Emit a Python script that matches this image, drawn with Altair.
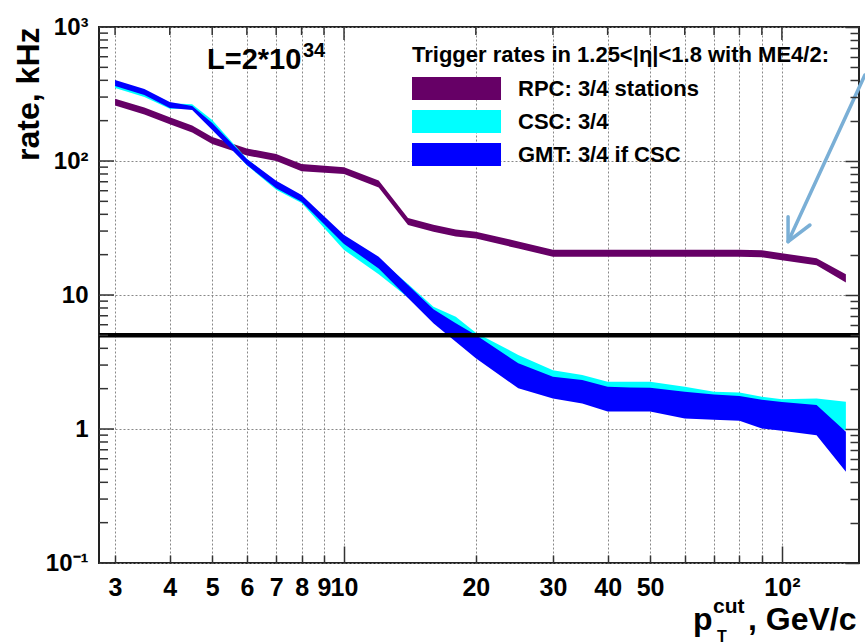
import altair as alt
import pandas as pd

# ---------------- data ----------------
pt = [3, 3.5, 4, 4.5, 5, 6, 7, 8, 10, 12, 14, 16, 18, 20, 25, 30, 35, 40, 45, 50,
      60, 70, 80, 90, 100, 120, 140]

rpc_lo = [259, 222, 188, 163, 134, 110, 100, 84, 80, 63.4, 33.3, 29.7, 27.3, 26.4, 22.2,
          19.3, 19.3, 19.3, 19.3, 19.3, 19.3, 19.3, 19.3, 19.1, 18.2, 16.7, 12.4]
rpc_hi = [292, 251, 212, 184, 151, 124, 113, 95, 90, 71.5, 37.6, 33.5, 30.8, 29.7, 25.1,
          21.8, 21.8, 21.8, 21.8, 21.8, 21.8, 21.8, 21.8, 21.6, 20.5, 18.8, 14.3]

csc_lo = [350, 300, 245, 245, 176, 93, 61, 48.6, 21.7, 14.3, 9.6, 6.7, 5.0, 3.8, 2.3,
          1.85, 1.7, 1.5, 1.5, 1.5, 1.35, 1.3, 1.28, 1.15, 1.1, 1.05, 0.98]
csc_hi = [392, 335, 270, 265, 202, 104, 69.6, 54.8, 26.6, 18.6, 12.1, 8.17, 6.89, 5.23, 3.57,
          2.75, 2.53, 2.25, 2.25, 2.25, 2.07, 1.90, 1.87, 1.74, 1.67, 1.69, 1.60]

gmt_lo = [363, 311, 249, 240, 170, 93.4, 62.5, 49.7, 24.0, 15.8, 9.5, 6.15, 4.48, 3.37, 2.01,
          1.69, 1.55, 1.35, 1.35, 1.35, 1.20, 1.17, 1.15, 1.01, 0.97, 0.90, 0.48]
gmt_hi = [402, 345, 276, 257, 192, 103.5, 71.3, 55.7, 28.0, 19.3, 11.9, 7.82, 6.15, 5.03, 3.09,
          2.45, 2.32, 2.07, 2.04, 2.03, 1.90, 1.81, 1.76, 1.65, 1.59, 1.51, 0.955]

series_names = ["RPC: 3/4 stations", "CSC: 3/4", "GMT: 3/4 if CSC"]
series_colors = ["#660066", "#00ffff", "#0000ff"]

threshold = [5]

# annotation arrow (data coordinates)
arrow_part = ["shaft", "shaft", "head", "head", "head"]
arrow_pt = [154.7, 103.3, 103.3, 103.3, 115.9]
arrow_rate = [438, 25.0, 38.4, 25.0, 33.3]
arrow_order = [0, 1, 0, 1, 2]

legend_title = "Trigger rates in 1.25<|η|<1.8 with ME4/2:"

x_ticks = [3, 4, 5, 6, 7, 8, 9, 10, 20, 30, 40, 50, 60, 70, 80, 90, 100]
x_major_ticks = [10, 100]
x_minor_ticks = [3, 4, 5, 6, 7, 8, 9, 20, 30, 40, 50, 60, 70, 80, 90]
y_major = [0.1, 1, 10, 100, 1000]
y_minor_ticks = [0.2, 0.3, 0.4, 0.5, 0.6, 0.7, 0.8, 0.9,
                 2, 3, 4, 5, 6, 7, 8, 9,
                 20, 30, 40, 50, 60, 70, 80, 90,
                 200, 300, 400, 500, 600, 700, 800, 900]

# ---------------- geometry / style ----------------
W, H = 760, 536
FONT = "Liberation Sans"
TICK_COLOR = "#333333"
TICK_W = 1.5
xscale = alt.Scale(type="log", domain=[2.757, 150], nice=False)
yscale = alt.Scale(type="log", domain=[0.1, 1000], nice=False)
cscale = alt.Scale(domain=series_names, range=series_colors)

legend = alt.Legend(
    orient="none", legendX=313, legendY=18, title=legend_title,
    titleFontSize=22, titleFontWeight="bold", titleFont=FONT, titleColor="black",
    titleLimit=600, titlePadding=10,
    labelFontSize=22, labelFontWeight="bold", labelFont=FONT, labelColor="black",
    labelOffset=83, labelLimit=400,
    symbolType="M-1,-1H6.74V1H-1Z", symbolSize=529, symbolStrokeWidth=0,
    symbolOpacity=1, rowPadding=10, padding=0,
)

x_main = alt.Axis(
    orient="bottom", values=x_ticks,
    labelExpr="datum.value == 100 ? '10²' : (datum.value >= 60 ? '' : format(datum.value, 'd'))",
    ticks=False, domain=False,
    grid=True, gridDash=[2, 2], gridColor="#888888", gridWidth=1,
    labelFontSize=25, labelFontWeight="bold", labelFont=FONT, labelColor="black",
    labelPadding=12, labelOverlap=False, labelFlush=False, title=None,
)
y_main = alt.Axis(
    orient="left", values=y_major,
    labelExpr="datum.value == 1000 ? '10³' : datum.value == 100 ? '10²' : datum.value == 10 ? '10' : datum.value == 1 ? '1' : '10⁻¹'",
    ticks=False, domain=False,
    grid=True, gridDash=[2, 2], gridColor="#888888", gridWidth=1,
    labelFontSize=24, labelFontWeight="bold", labelFont=FONT, labelColor="black",
    labelPadding=11, labelOverlap=False, labelFlush=False,
    title="rate, kHz", titleFontSize=32, titleFontWeight="bold", titleFont=FONT,
    titleColor="black", titleAngle=270, titleX=-71, titleY=0,
    titleAlign="right", titleBaseline="middle",
)


def tick_axis(orient, values, offset, size):
    # an axis shifted onto the far edge so that its ticks point into the frame
    return alt.Axis(
        orient=orient, values=values, offset=offset, labels=False, domain=False,
        grid=False, title=None, tickColor=TICK_COLOR, tickWidth=TICK_W,
        tickSize=size, zindex=1,
    )


def band(i, lo, hi, axes):
    df = pd.DataFrame({"pt": pt, "lo": lo, "hi": hi, "series": series_names[i]})
    return alt.Chart(df).mark_area(opacity=1, interpolate="linear").encode(
        x=alt.X("pt:Q", scale=xscale, axis=x_main if axes else None),
        y=alt.Y("lo:Q", scale=yscale, axis=y_main if axes else None),
        y2="hi:Q",
        color=alt.Color("series:N", scale=cscale, legend=legend if axes else None),
    )


rpc = band(0, rpc_lo, rpc_hi, True)
csc = band(1, csc_lo, csc_hi, False)
gmt = band(2, gmt_lo, gmt_hi, False)

rule = alt.Chart(pd.DataFrame({"v": threshold})).mark_rule(
    color="black", strokeWidth=4.5
).encode(y=alt.Y("v:Q", scale=yscale, axis=None))

arrow = alt.Chart(pd.DataFrame({
    "pt": arrow_pt, "rate": arrow_rate, "part": arrow_part, "o": arrow_order
})).mark_line(color="#7aafd6", strokeWidth=3.5, strokeCap="round",
              strokeJoin="round", clip=False).encode(
    x=alt.X("pt:Q", scale=xscale, axis=None),
    y=alt.Y("rate:Q", scale=yscale, axis=None),
    detail="part:N", order="o:Q",
)

one = pd.DataFrame({"a": [1]})


def txt(s, x, y, size):
    return alt.Chart(one).mark_text(
        text=s, align="left", baseline="alphabetic", font=FONT,
        fontWeight="bold", fontSize=size, color="black",
    ).encode(x=alt.value(x), y=alt.value(y))


texts = [
    txt("L=2*10", 108, 42, 29),
    txt("34", 204, 30, 20),
    txt("p", 594, 603, 32),
    txt("cut", 614, 586, 21),
    txt("T", 618, 615, 16),
    txt(", GeV/c", 649, 603, 32),
]

pts = pd.DataFrame({"x": [10], "y": [10]})


def tick_layer(xv, xs, yv, ys):
    # bottom-edge ticks (x) and right-edge ticks (y)
    return alt.Chart(pts).mark_point(opacity=0).encode(
        x=alt.X("x:Q", scale=xscale, axis=tick_axis("top", xv, -H, xs)),
        y=alt.Y("y:Q", scale=yscale, axis=tick_axis("left", yv, -W, ys)),
    )


def left_ticks(values, length):
    return alt.Chart(pd.DataFrame({"v": values})).mark_rule(
        color=TICK_COLOR, strokeWidth=TICK_W
    ).encode(y=alt.Y("v:Q", scale=yscale, axis=None),
             x=alt.value(0), x2=alt.value(length))


def top_ticks(values, length):
    return alt.Chart(pd.DataFrame({"v": values})).mark_rule(
        color=TICK_COLOR, strokeWidth=TICK_W
    ).encode(x=alt.X("v:Q", scale=xscale, axis=None),
             y=alt.value(0), y2=alt.value(length))


tick_layers = [
    tick_layer(x_major_ticks, 17, y_major, 14),
    tick_layer(x_minor_ticks, 8, y_minor_ticks, 9),
    left_ticks(y_major, 15),
    left_ticks(y_minor_ticks, 9),
    top_ticks(x_major_ticks, 13),
    top_ticks(x_minor_ticks, 8),
]

chart = alt.layer(
    rpc, csc, gmt, rule, arrow, *tick_layers, *texts
).resolve_scale(x="independent", y="independent").properties(
    width=W, height=H, autosize="none",
    padding={"left": 99, "top": 27, "right": 6, "bottom": 81},
    background="white",
).configure(font=FONT).configure_view(stroke="#222222", strokeWidth=2)

chart.save("out.html", embed_options={"renderer": "svg", "actions": False})
